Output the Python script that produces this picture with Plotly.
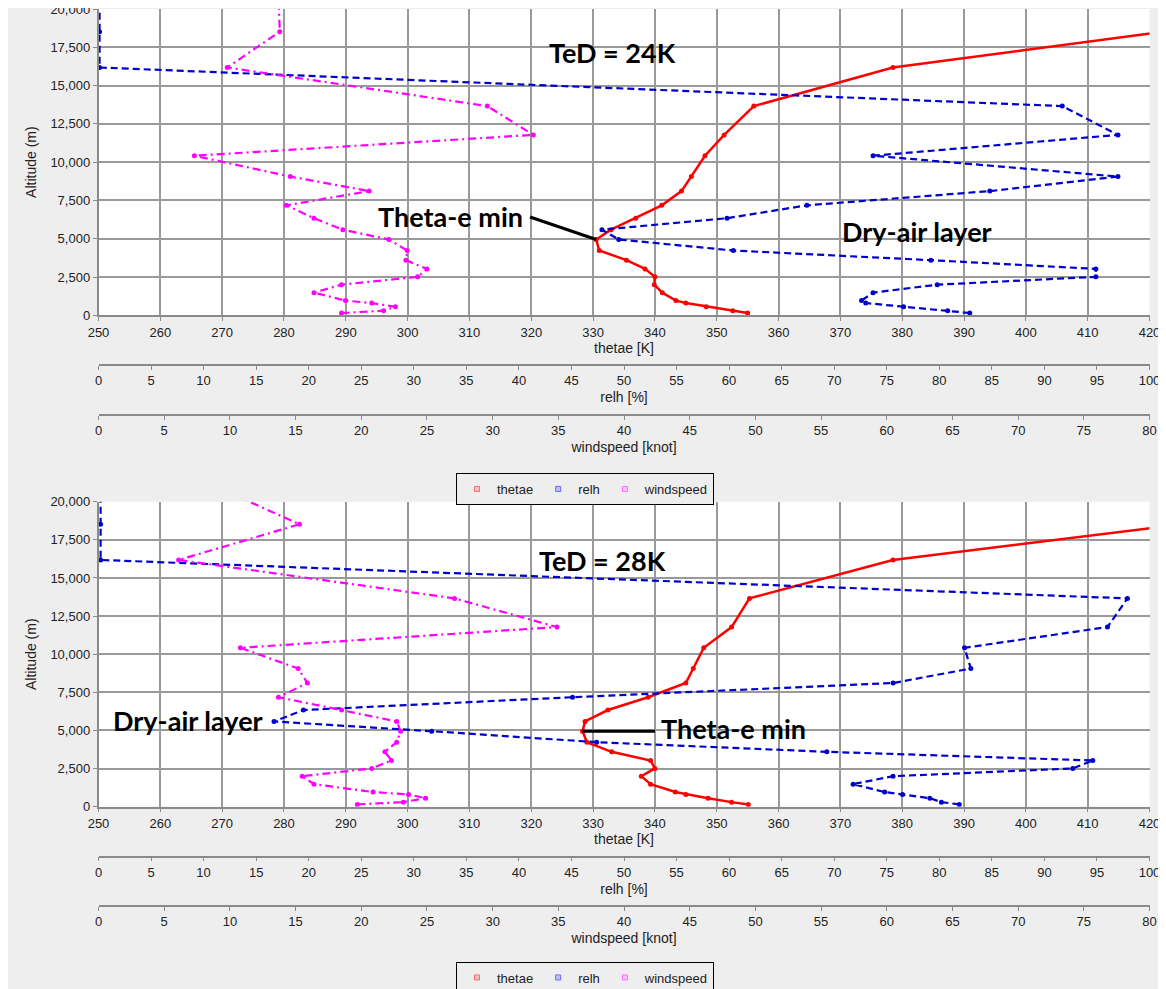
import plotly.graph_objects as go

# The page body adds an 8 px offset; the figure spans screen x 8..1160, y 8..989.
OFF = 8
W, H = 1152, 981

# ---------------- data ----------------
altitude = [150, 300, 560, 800, 960, 1480, 2000, 2510, 3030, 3600, 4230, 4950,
            5590, 6340, 7180, 8110, 9060, 10420, 11780, 13660, 16180, 18520, 20650]

thetae_24 = [355.0, 352.6, 348.3, 345.0, 343.4, 341.2, 339.9, 340.0, 338.4, 335.4, 331.0, 330.5,
             332.9, 336.9, 341.1, 344.3, 345.9, 348.1, 351.2, 356.0, 378.5, 422.0, 462.0]
relh_24 = [82.9, 80.8, 76.6, 73.0, 72.6, 73.7, 79.8, 94.9, 94.9, 79.2, 60.4, 49.5,
           47.9, 59.8, 67.4, 84.8, 97.0, 73.7, 97.0, 91.7, 0.1, 0.1, 0.1]
wind_24 = [18.5, 21.7, 22.6, 20.8, 18.8, 16.4, 18.5, 24.3, 25.0, 23.4, 23.5, 22.1,
           18.6, 16.4, 14.3, 20.6, 14.6, 7.3, 33.1, 29.6, 9.8, 13.8, 13.7]

thetae_28 = [355.1, 352.4, 348.6, 345.0, 343.3, 339.3, 337.8, 340.0, 339.3, 333.0, 329.0, 328.3,
             328.7, 332.4, 338.9, 345.0, 346.2, 347.9, 352.4, 355.3, 378.5, 425.0, 468.0]
relh_28 = [81.9, 80.2, 79.1, 76.5, 74.8, 71.8, 75.6, 92.7, 94.6, 69.3, 47.4, 31.7,
           16.7, 19.5, 45.1, 75.6, 83.0, 82.4, 96.0, 97.9, 0.2, 0.2, 0.2]
wind_28 = [19.7, 23.2, 24.9, 23.6, 20.9, 16.4, 15.5, 20.8, 22.3, 21.8, 22.7, 23.0,
           22.7, 18.5, 13.7, 15.9, 15.2, 10.8, 34.9, 27.1, 6.1, 15.3, 9.8]

series_names = ["thetae", "relh", "windspeed"]
panel_labels = ["TeD = 24K", "TeD = 28K"]
thetae_range = [250, 420]
relh_range = [0, 100]
wind_range = [0, 80]
alt_range = [0, 20000]

# ---------------- styling ----------------
RED, BLUE, MAG = "#ff0000", "#0000cc", "#ff00ff"
TXT = "#222222"
GRID = "#9a9a9a"
AXL = "#8a8a8a"
FONT = "Liberation Sans, Arial, sans-serif"
ANN_FONT = dict(family="Lato, Open Sans, sans-serif", size=27, color="black", weight="bold")
TICKF = dict(family=FONT, size=13, color=TXT)
TITLEF = dict(family=FONT, size=14, color=TXT)


def py(p):
    """screen y pixel -> paper fraction"""
    return 1 - (p - OFF) / H


def px(p):
    """screen x pixel -> paper fraction"""
    return (p - OFF) / W


xdom = [px(98.5), px(1149.5)]
panels = [
    dict(top=9.0, bottom=315.3, relh_line=365.0, wind_line=415.0, legend_top=473.0,
         th=thetae_24, rh=relh_24, ws=wind_24, ax=("x", "x2", "x3"), yax="y", legend="legend"),
    dict(top=501.7, bottom=806.7, relh_line=856.5, wind_line=906.0, legend_top=961.5,
         th=thetae_28, rh=relh_28, ws=wind_28, ax=("x4", "x5", "x6"), yax="y2", legend="legend2"),
]

fig = go.Figure()

for p in panels:
    xa, xb, xc = p["ax"]
    ya = p["yax"]
    fig.add_trace(go.Scatter(x=p["th"], y=altitude, xaxis=xa, yaxis=ya, mode="lines+markers",
                             line=dict(color=RED, width=2.5), marker=dict(size=5, color=RED),
                             name="thetae", showlegend=False))
    fig.add_trace(go.Scatter(x=p["rh"], y=altitude, xaxis=xb, yaxis=ya, mode="lines+markers",
                             line=dict(color=BLUE, width=2.2, dash="7px,4px"),
                             marker=dict(size=5, color=BLUE),
                             name="relh", showlegend=False))
    fig.add_trace(go.Scatter(x=p["ws"], y=altitude, xaxis=xc, yaxis=ya, mode="lines+markers",
                             line=dict(color=MAG, width=2.2, dash="8px,4px,2px,4px"),
                             marker=dict(size=5, color=MAG),
                             name="windspeed", showlegend=False))
    # legend entries (small pale squares, as in the reference legend)
    for nm, c, lc in zip(series_names, ["#ffc0c0", "#c0c0ff", "#ffc0ff"], ["#ff6a6a", "#6a6aff", "#ff6aff"]):
        fig.add_trace(go.Scatter(x=[None], y=[None], xaxis=xa, yaxis=ya, mode="markers",
                                 marker=dict(symbol="square", size=5, color=c, line=dict(color=lc, width=1)),
                                 name=nm, legend=p["legend"], showlegend=True))

layout = dict(
    width=W, height=H,
    margin=dict(l=0, r=0, t=0, b=0, autoexpand=False),
    paper_bgcolor="#eeeeee", plot_bgcolor="white",
    font=dict(family=FONT, size=13, color=TXT),
    shapes=[], annotations=[],
)

main_x = dict(range=thetae_range, dtick=10, showgrid=True, gridcolor=GRID, gridwidth=1.5,
              zeroline=False, ticks="outside", ticklen=4, tickcolor=AXL, showline=True,
              linecolor=AXL, linewidth=1.5, tickfont=TICKF, ticklabeloverflow="allow",
              title=dict(text="thetae [K]", font=TITLEF, standoff=4),
              domain=xdom, automargin=False)


def sec_x(rng, title, overl, pos):
    return dict(range=rng, dtick=5, showgrid=False, zeroline=False, ticks="outside", ticklen=4,
                tickcolor=AXL, showline=True, linecolor=AXL, linewidth=1.5,
                tickfont=TICKF, ticklabeloverflow="allow",
                title=dict(text=title, font=TITLEF, standoff=4),
                overlaying=overl, anchor="free", position=pos, side="bottom", automargin=False)


for i, p in enumerate(panels):
    xa, xb, xc = p["ax"]
    ya = p["yax"]
    ydom = [py(p["bottom"]), py(p["top"])]
    layout["xaxis" + ("" if xa == "x" else xa[1:])] = dict(main_x, anchor=ya)
    layout["xaxis" + xb[1:]] = sec_x(relh_range, "relh [%]", xa, py(p["relh_line"]))
    layout["xaxis" + xc[1:]] = sec_x(wind_range, "windspeed [knot]", xa, py(p["wind_line"]))
    layout["yaxis" + ("" if ya == "y" else ya[1:])] = dict(
        range=alt_range, dtick=2500, tickformat=",d", domain=ydom, anchor=xa,
        showgrid=True, gridcolor=GRID, gridwidth=1.5, zeroline=False,
        ticks="outside", ticklen=4, tickcolor=AXL, showline=True, linecolor=AXL, linewidth=1.5,
        tickfont=TICKF, automargin=False, ticklabeloverflow="allow",
        title=dict(text="Altitude (m)", font=TITLEF, standoff=10))
    layout[p["legend"]] = dict(orientation="h", x=px(585), xanchor="center", y=py(p["legend_top"]),
                               yanchor="top", bgcolor="#eeeeee", bordercolor="black", borderwidth=1,
                               font=dict(family=FONT, size=13, color=TXT), itemwidth=30,
                               tracegroupgap=0)

    # annotations
    th = p["th"]
    imin = min(range(len(th)), key=lambda k: th[k])
    xref, yref = xa, ya
    if i == 0:
        layout["annotations"] += [
            dict(text=panel_labels[0], x=333.2, y=17130, xref=xref, yref=yref, showarrow=False,
                 font=ANN_FONT, xanchor="center", yanchor="middle"),
            dict(text="Theta-e min", x=307.0, y=6480, xref=xref, yref=yref, showarrow=False,
                 font=ANN_FONT, xanchor="center", yanchor="middle"),
            dict(text="Dry-air layer", x=382.4, y=5440, xref=xref, yref=yref, showarrow=False,
                 font=ANN_FONT, xanchor="center", yanchor="middle"),
        ]
        layout["shapes"].append(dict(type="line", xref=xref, yref=yref, x0=319.8, y0=6420,
                                     x1=th[imin], y1=altitude[imin], line=dict(color="black", width=3)))
    else:
        layout["annotations"] += [
            dict(text=panel_labels[1], x=331.6, y=16175, xref=xref, yref=yref, showarrow=False,
                 font=ANN_FONT, xanchor="center", yanchor="middle"),
            dict(text="Theta-e min", x=340.6, y=5140, xref=xref, yref=yref, showarrow=False,
                 font=ANN_FONT, xanchor="left", yanchor="middle"),
            dict(text="Dry-air layer", x=264.5, y=5660, xref=xref, yref=yref, showarrow=False,
                 font=ANN_FONT, xanchor="center", yanchor="middle"),
        ]
        layout["shapes"].append(dict(type="line", xref=xref, yref=yref, x0=th[imin], y0=altitude[imin],
                                     x1=340.0, y1=altitude[imin], line=dict(color="black", width=3)))

fig.update_layout(**layout)
fig.write_html("out.html")
